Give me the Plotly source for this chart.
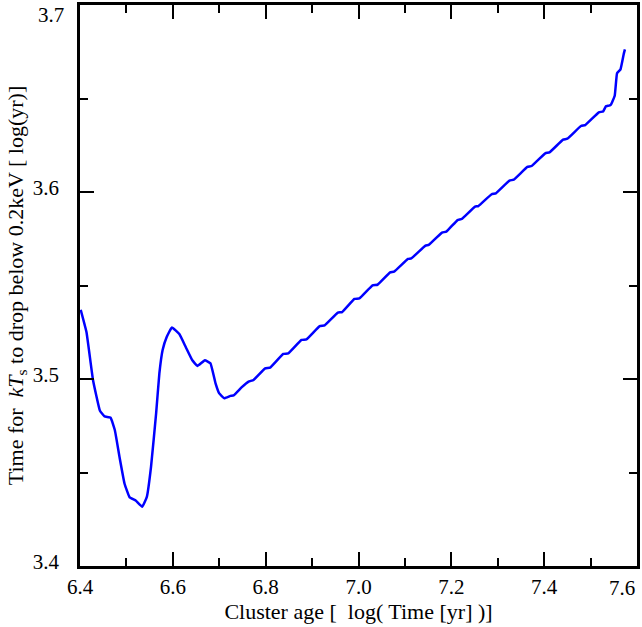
import plotly.graph_objects as go

# Cluster age [log(Time [yr])]
age = [6.4015, 6.414, 6.428, 6.443, 6.453, 6.466, 6.475, 6.485, 6.496, 6.507, 6.520, 6.534,
       6.544, 6.553, 6.564, 6.571, 6.578, 6.587, 6.598, 6.614, 6.628, 6.642, 6.653, 6.669,
       6.681, 6.692, 6.700, 6.711, 6.724, 6.731, 6.748,
       6.7632, 6.7739, 6.7989, 6.8096, 6.8380, 6.8487, 6.8772, 6.8879, 6.9164, 6.9271,
       6.9556, 6.9648, 6.9912, 7.0019, 7.0303, 7.0410, 7.0681, 7.0767, 7.1066, 7.1137,
       7.1443, 7.1514, 7.1799, 7.1892, 7.2134, 7.2226, 7.2511, 7.2583, 7.2868, 7.2960,
       7.3253, 7.3345, 7.3638, 7.3730, 7.4023, 7.4115, 7.4408, 7.4500, 7.4793, 7.4885,
       7.5178, 7.5270, 7.5330, 7.5430, 7.5520, 7.5570, 7.5645, 7.5716, 7.5740]

# Time for kT_s to drop below 0.2 keV [log(yr)]
t_drop = [3.537, 3.525, 3.4995, 3.483, 3.480, 3.4793, 3.4727, 3.4585, 3.444, 3.4367, 3.435, 3.4317,
          3.437, 3.453, 3.4816, 3.503, 3.5155, 3.5226, 3.5276, 3.524, 3.517, 3.510, 3.507, 3.510,
          3.5084, 3.4977, 3.4923, 3.4897, 3.491, 3.4913, 3.4955,
          3.4986, 3.4995, 3.5057, 3.5061, 3.5134, 3.5137, 3.5209, 3.5212, 3.5283, 3.5287,
          3.5355, 3.5358, 3.5428, 3.5431, 3.5501, 3.5504, 3.5570, 3.5574, 3.5642, 3.5645,
          3.5713, 3.5717, 3.5783, 3.5788, 3.5850, 3.5856, 3.5922, 3.5925, 3.5988, 3.5993,
          3.6061, 3.6066, 3.6134, 3.6139, 3.6207, 3.6212, 3.6280, 3.6285, 3.6353, 3.6358,
          3.6426, 3.6431, 3.6458, 3.6465, 3.6515, 3.6635, 3.6656, 3.6740, 3.6763]

x_ticks = [6.4, 6.6, 6.8, 7.0, 7.2, 7.4]
y_ticks = [3.4, 3.5, 3.6]
edge_x_label = "7.6"
edge_y_label = "3.7"

FONT = "Liberation Serif, Times New Roman, serif"
TICK_SIZE = 21
TITLE_SIZE = 22

fig = go.Figure()
fig.add_trace(go.Scatter(x=age, y=t_drop, mode="lines",
                         line=dict(color="#0000ff", width=2.5, shape="spline", smoothing=0.3),
                         showlegend=False))

axis_common = dict(
    showline=True, linecolor="black", linewidth=2.5, mirror="ticks",
    ticks="inside", ticklen=14, tickwidth=2, tickcolor="black",
    showgrid=False, zeroline=False, tickformat=".1f",
    tickfont=dict(family=FONT, size=TICK_SIZE, color="black"),
)

fig.update_xaxes(**axis_common, range=[6.4, 7.6], tickvals=x_ticks,
                 minor=dict(ticks="inside", ticklen=8, tickwidth=2, dtick=0.1, tick0=6.4,
                            tickcolor="black", showgrid=False),
                 ticklabelstandoff=0,
                 title=dict(text="Cluster age [  log( Time [yr] )]",
                            font=dict(family=FONT, size=TITLE_SIZE, color="black"), standoff=3))
fig.update_yaxes(**axis_common, range=[3.4, 3.7], tickvals=y_ticks,
                 minor=dict(ticks="inside", ticklen=8, tickwidth=2, dtick=0.05, tick0=3.4,
                            tickcolor="black", showgrid=False),
                 ticklabelstandoff=14, ticklabelshift=-4,
                 title=dict(text="Time for  <i>kT</i><sub>s</sub> to drop below 0.2keV [ log(yr)]",
                            font=dict(family=FONT, size=TITLE_SIZE, color="black"), standoff=4))

fig.add_annotation(text=edge_x_label, xref="paper", yref="paper", x=1, y=0,
                   xanchor="right", yanchor="top", yshift=-8, showarrow=False,
                   font=dict(family=FONT, size=TICK_SIZE, color="black"))
fig.add_annotation(text=edge_y_label, xref="paper", yref="paper", x=0, y=1,
                   xanchor="right", yanchor="middle", xshift=-14, yshift=-10, showarrow=False,
                   font=dict(family=FONT, size=TICK_SIZE, color="black"))

fig.update_layout(width=642, height=627, margin=dict(l=80, r=2, t=5, b=61),
                  plot_bgcolor="white", paper_bgcolor="white",
                  font=dict(family=FONT, color="black"))

fig.write_html("out.html")
